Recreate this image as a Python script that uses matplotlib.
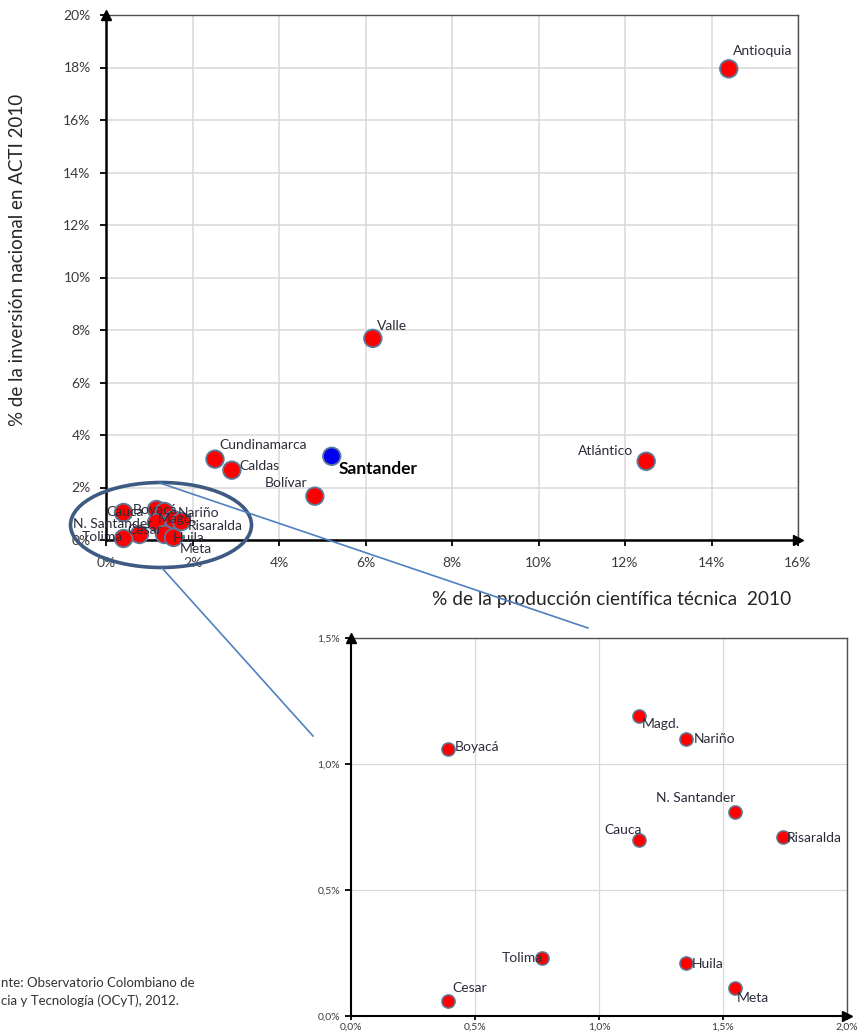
import matplotlib
matplotlib.use("Agg")
import matplotlib.pyplot as plt
from matplotlib.patches import Ellipse
from matplotlib.ticker import FuncFormatter

plt.rcParams['font.family'] = ['Lato', 'DejaVu Sans']

# Departamentos grandes (gráfico principal), % producción vs % inversión
deptos = ["Antioquia", "Valle", "Atlántico", "Santander", "Bolívar", "Cundinamarca", "Caldas"]
prod = [14.4, 6.17, 12.49, 5.22, 4.83, 2.52, 2.91]
inv = [17.95, 7.68, 3.0, 3.19, 1.67, 3.08, 2.66]

# Departamentos pequeños (detalle ampliado)
peq = ["Boyacá", "Magd.", "Nariño", "N. Santander", "Cauca", "Risaralda",
       "Tolima", "Huila", "Meta", "Cesar"]
peq_prod = [0.39, 1.16, 1.35, 1.55, 1.16, 1.74, 0.77, 1.35, 1.55, 0.39]
peq_inv = [1.06, 1.19, 1.10, 0.81, 0.70, 0.71, 0.23, 0.21, 0.11, 0.06]

x_ticks = [0, 2, 4, 6, 8, 10, 12, 14, 16]
y_ticks = [0, 2, 4, 6, 8, 10, 12, 14, 16, 18, 20]
xi_ticks = [0, 0.5, 1.0, 1.5, 2.0]
yi_ticks = [0, 0.5, 1.0, 1.5]

# posiciones de etiquetas en el gráfico principal (coordenadas de datos)
pos_grandes = {
    "Antioquia": (14.5, 18.63), "Valle": (6.27, 8.17), "Atlántico": (10.91, 3.4),
    "Santander": (5.39, 2.71), "Bolívar": (3.68, 2.18),
    "Cundinamarca": (2.61, 3.63), "Caldas": (3.08, 2.83),
}
pos_cluster = {
    "Cauca": (0.02, 1.07), "Boyacá": (0.62, 1.15), "Nariño": (1.66, 1.03),
    "Magd.": (1.2, 0.8), "N. Santander": (-0.76, 0.61), "Risaralda": (1.9, 0.53),
    "Cesar": (0.5, 0.38), "Tolima": (-0.55, 0.11), "Huila": (1.55, 0.08),
    "Meta": (1.71, -0.34),
}
# desplazamientos de etiquetas en el detalle (puntos), alineación horizontal
off_peq = {
    "Boyacá": (5, 1, 'left'), "Magd.": (2, -6, 'left'), "Nariño": (6, 0, 'left'),
    "N. Santander": (0, 10, 'right'), "Cauca": (2, 7, 'right'),
    "Risaralda": (3, -1, 'left'), "Tolima": (1, 0, 'right'),
    "Huila": (4, -1, 'left'), "Meta": (1, -7, 'left'), "Cesar": (3, 9, 'left'),
}

ROJO = '#ff0000'
BORDE = '#5a7a99'
TXT = '#2b2b3a'

fig = plt.figure(figsize=(8.59, 10.36), dpi=100)


def estilo_ejes(ax, lw_eje, tam):
    for s in ['top', 'right']:
        ax.spines[s].set_color('#505050')
        ax.spines[s].set_linewidth(1.0)
    for s in ['left', 'bottom']:
        ax.spines[s].set_color('black')
        ax.spines[s].set_linewidth(lw_eje)
    ax.grid(True, color='#d9d9d9', linewidth=1.1)
    ax.set_axisbelow(True)
    ax.tick_params(direction='out', length=4, width=1.3, color='black',
                   labelsize=tam, labelcolor='#3a3a3a', pad=5)
    ax.plot(1, 0, '>', color='black', markersize=7, transform=ax.transAxes, clip_on=False, zorder=5)
    ax.plot(0, 1, '^', color='black', markersize=7, transform=ax.transAxes, clip_on=False, zorder=5)


# --- gráfico principal ---
ax = fig.add_axes([106 / 859, 1 - 540 / 1036, 692 / 859, 525 / 1036])
ax.set_xlim(0, 16)
ax.set_ylim(0, 20)
ax.set_xticks(x_ticks)
ax.set_yticks(y_ticks)
ax.xaxis.set_major_formatter(FuncFormatter(lambda v, p: f"{v:.0f}%"))
ax.yaxis.set_major_formatter(FuncFormatter(lambda v, p: f"{v:.0f}%"))
estilo_ejes(ax, 1.8, 10)
ax.tick_params(axis='x', pad=8)
ax.tick_params(axis='y', pad=7)

colores = [('#0000f0' if d == "Santander" else ROJO) for d in deptos]
ax.scatter(prod, inv, s=160, c=colores, edgecolors=BORDE, linewidths=1.3, zorder=4, clip_on=False)
ax.scatter(peq_prod, peq_inv, s=160, c=ROJO, edgecolors=BORDE, linewidths=1.3, zorder=4, clip_on=False)

for d in deptos:
    x, y = pos_grandes[d]
    if d == "Santander":
        ax.text(x, y, d, fontsize=12.5, fontweight='bold', color='black', va='center', ha='left', zorder=6)
    else:
        ax.text(x, y, d, fontsize=10, color=TXT, va='center', ha='left', zorder=6)
for d in peq:
    x, y = pos_cluster[d]
    ax.text(x, y, d, fontsize=10, color=TXT, va='center', ha='left', zorder=6, clip_on=False)

fig.text(18 / 859, 1 - 260 / 1036, "% de la inversión nacional en ACTI 2010", rotation=90,
         fontsize=13.5, color='#262626', ha='center', va='center')
fig.text(612 / 859, 1 - 600 / 1036, "% de la producción científica técnica  2010",
         fontsize=13.8, color='#262626', ha='center', va='center')

# --- detalle ampliado ---
axi = fig.add_axes([351 / 859, 1 - 1016 / 1036, 496 / 859, 378 / 1036])
axi.set_xlim(0, 2.0)
axi.set_ylim(0, 1.5)
axi.set_xticks(xi_ticks)
axi.set_yticks(yi_ticks)
axi.xaxis.set_major_formatter(FuncFormatter(lambda v, p: f"{v:.1f}%".replace('.', ',')))
axi.yaxis.set_major_formatter(FuncFormatter(lambda v, p: f"{v:.1f}%".replace('.', ',')))
estilo_ejes(axi, 1.5, 7.5)
axi.grid(True, color='#d9d9d9', linewidth=0.9)
axi.tick_params(axis='x', pad=1.5, length=3)
axi.tick_params(axis='y', pad=4)
axi.scatter(peq_prod, peq_inv, s=90, c=ROJO, edgecolors=BORDE, linewidths=1.1, zorder=4, clip_on=False)
for d, x, y in zip(peq, peq_prod, peq_inv):
    dx, dy, ha = off_peq[d]
    axi.annotate(d, (x, y), xytext=(dx, dy), textcoords='offset points',
                 fontsize=10, color=TXT, ha=ha, va='center', zorder=6)

# --- elipse y líneas de conexión (coordenadas de figura en píxeles) ---
ov = fig.add_axes([0, 0, 1, 1], zorder=10)
ov.set_xlim(0, 859)
ov.set_ylim(1036, 0)
ov.axis('off')
ov.patch.set_alpha(0)
ov.add_patch(Ellipse((161, 525), 181, 85, fill=False, edgecolor='#3c5a82', linewidth=2.6))
ov.plot([160, 588], [483, 628], color='#4f81bd', linewidth=1.2)
ov.plot([162, 313], [568, 736], color='#4f81bd', linewidth=1.2)

fig.text(1 / 859, 1 - 983 / 1036, "nte: Observatorio Colombiano de", fontsize=9.5, color='#333333', va='center', ha='left')
fig.text(1 / 859, 1 - 1001 / 1036, "cia y Tecnología (OCyT), 2012.", fontsize=9.5, color='#333333', va='center', ha='left')

plt.savefig("out.png", dpi=100)
